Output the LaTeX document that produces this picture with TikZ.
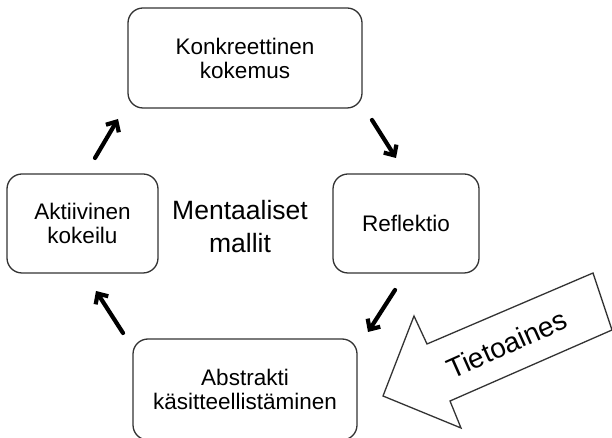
\documentclass[tikz,border=0pt]{standalone}
\usepackage{fontspec}
\setmainfont{Liberation Sans}
\usetikzlibrary{arrows.meta}
\definecolor{frame}{HTML}{333333}

\tikzset{
  stage/.style={draw=frame, line width=1.3pt, rounded corners=15pt, align=center,
    inner sep=0pt, font=\fontsize{22.5}{24}\selectfont},
  cyclearrow/.style={-{Straight Barb[length=8pt,width=15pt,line width=4.2pt]},
    line width=4.2pt, line cap=round},
}

\begin{document}
\begin{tikzpicture}[x=1pt, y=1pt]

  \clip (0, 0) rectangle (612, 438);
  \filldraw[white] (0, 0) rectangle (612, 438);

  % BOXES
  \node[stage, minimum width=234pt, minimum height=100pt] (konkreet) at (245, 380)
    {Konkreettinen\\kokemus};
  \node[stage, minimum width=146pt, minimum height=99pt] (reflektio) at (406, 214.5)
    {Reflektio};
  \node[stage, minimum width=224pt, minimum height=101pt] (abstrakti) at (245, 48.5)
    {Abstrakti\\käsitteellistäminen};
  \node[stage, minimum width=151pt, minimum height=99pt] (aktiivi) at (82.5, 214.5)
    {Aktiivinen\\kokeilu};

  % CENTRE TEXT
  \node[align=center, font=\fontsize{26.5}{33}\selectfont] (mallit) at (240, 211)
    {Mentaaliset\\mallit};

  % CYCLE ARROWS
  \coordinate (a1s) at (95, 280);  \coordinate (a1e) at (118, 319);
  \coordinate (a2s) at (372, 318); \coordinate (a2e) at (396, 280);
  \coordinate (a3s) at (395, 148); \coordinate (a3e) at (368, 106);
  \coordinate (a4s) at (123, 105); \coordinate (a4e) at (96, 147);
  \foreach \n in {1, 2, 3, 4}{
    \draw[cyclearrow] (a\n s) -- (a\n e);
  }

  % BIG ARROW
  \draw[frame, line width=1.3pt, line join=miter, fill=white]
    (383, 42) -- (414, 122) -- (427, 94) -- (593, 165) -- (612, 108)
    -- (450, 37) -- (461, 10) -- cycle;
  \node[rotate=24, font=\fontsize{28}{30}\selectfont] (tieto) at (507, 94) {Tietoaines};

\end{tikzpicture}
\end{document}
